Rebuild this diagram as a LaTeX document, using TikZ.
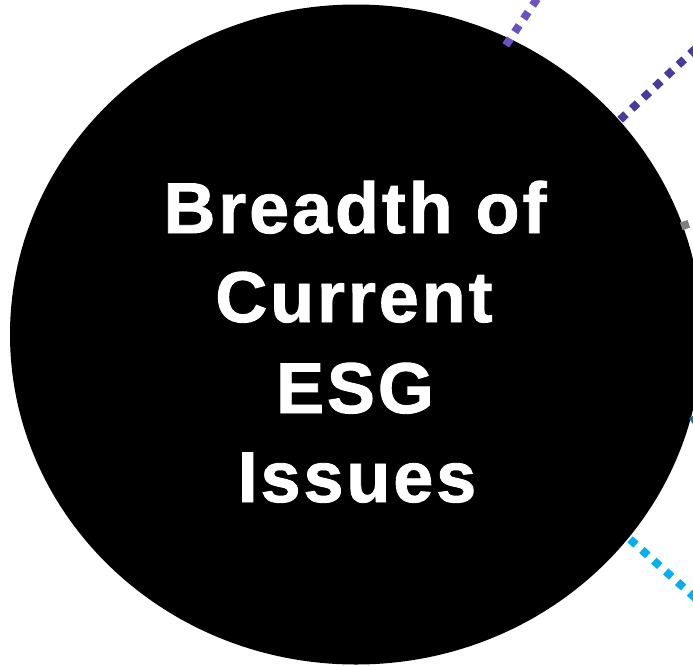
\documentclass[tikz,border=0pt]{standalone}
\usepackage{fontspec}
\newfontfamily\esgfont[LetterSpace=4,FakeBold=1.2]{Liberation Sans}
\definecolor{lilac}{HTML}{6B52C4}
\definecolor{indigo}{HTML}{4A3A9C}
\definecolor{stone}{HTML}{808080}
\definecolor{petrol}{HTML}{1B6F8E}
\definecolor{sky}{HTML}{00B0F0}
\begin{document}
\begin{tikzpicture}[x=1pt,y=-1pt,
  spoke/.style={line width=8pt,dash pattern=on 8pt off 8pt},
  titleline/.style={text=white,font=\esgfont\bfseries\fontsize{72}{90}\selectfont,anchor=base,inner sep=0pt}]
  \useasboundingbox (0,0) rectangle (693,665);
  \clip (0,0) rectangle (693,665);
  % hub
  \fill[black] (356,334.5) ellipse [x radius=346, y radius=330];
  \node[titleline] (l1) at (355,233) {Breadth of};
  \node[titleline] (l2) at (354,322) {Current};
  \node[titleline] (l3) at (355,413) {ESG};
  \node[titleline] (l4) at (357,502) {Issues};
  % dotted spokes leaving the hub
  \coordinate (s1a) at (505.8,45.3);  \coordinate (s1b) at (590,-80);
  \coordinate (s2a) at (620.1,119.7); \coordinate (s2b) at (760,-12);
  \coordinate (s3a) at (681.2,226.3); \coordinate (s3b) at (800,187);
  \coordinate (s4a) at (692.5,416.0); \coordinate (s4b) at (760,520);
  \coordinate (s5a) at (630.0,539.3); \coordinate (s5b) at (760,656);
  \draw[spoke,lilac]  (s1a) -- (s1b);
  \draw[spoke,indigo] (s2a) -- (s2b);
  \draw[spoke,stone]  (s3a) -- (s3b);
  \draw[spoke,petrol] (s4a) -- (s4b);
  \draw[spoke,sky]    (s5a) -- (s5b);
\end{tikzpicture}
\end{document}
